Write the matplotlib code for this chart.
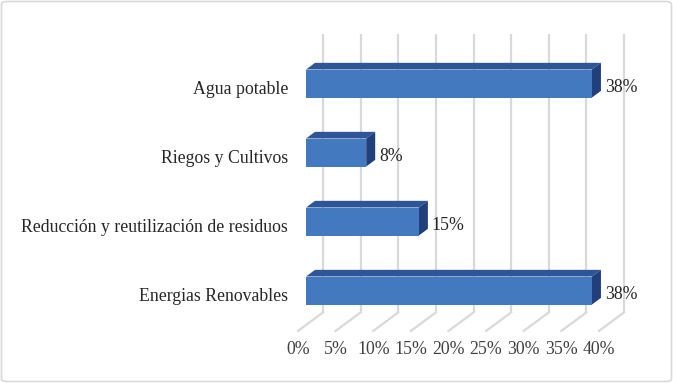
import matplotlib
matplotlib.use('Agg')

import matplotlib.pyplot as plt
from matplotlib.patches import Polygon, FancyBboxPatch
import numpy as np

# --- Data ---
categories = ['Energias Renovables', 'Reducción y reutilización de residuos',
              'Riegos y Cultivos', 'Agua potable']
values = [38, 15, 8, 38]
value_labels = ['38%', '15%', '8%', '38%']
ticks = [0, 5, 10, 15, 20, 25, 30, 35, 40]
tick_labels = ['0%', '5%', '10%', '15%', '20%', '25%', '30%', '35%', '40%']

plt.rcParams['font.family'] = ['Liberation Serif', 'DejaVu Serif']

W, H = 673, 383
fig = plt.figure(figsize=(W / 100, H / 100), dpi=100)

# axes placed so that 0..40 % maps onto the bars' front plane
ax_left, ax_w = 306, 301
ax_bottom, ax_h = H - 325, 276
ax = fig.add_axes([ax_left / W, ax_bottom / H, ax_w / W, ax_h / H])
ax.set_xlim(0, 40)
ax.set_ylim(-0.5, 3.5)
ax.axis('off')

px_x = ax_w / 40.0      # pixels per percent
px_y = ax_h / 4.0       # pixels per category
slope = 0.74            # vertical rise per pixel of depth


def depth(d):
    """data-unit offset for a depth of d pixels"""
    return d / px_x, slope * d / px_y


grid_c = '#D9D9D9'
# back wall gridlines + floor lines
wx, wy = depth(17)
fx, fy = depth(-8)
for t in ticks:
    ax.plot([t + wx, t + wx], [-0.5 + wy, 3.5 + wy + 2 / px_y], color=grid_c,
            lw=1.6, clip_on=False, zorder=1, solid_capstyle='butt')
    ax.plot([t + wx, t + fx], [-0.5 + wy, -0.5 + fy], color=grid_c, lw=1.6,
            clip_on=False, zorder=1)

# 3D-looking bars
bar_h = 28 / px_y
bx, by = depth(9)
front_c, top_c, side_c = '#4379BF', '#2D5598', '#213F7B'
fs = 12.8
for i, v in enumerate(values):
    y0, y1 = i - bar_h / 2, i + bar_h / 2
    ax.add_patch(Polygon([(0, y1), (v, y1), (v + bx, y1 + by), (bx, y1 + by)],
                         closed=True, facecolor=top_c, edgecolor='none',
                         zorder=3, clip_on=False))
    ax.add_patch(Polygon([(v, y0), (v, y1), (v + bx, y1 + by), (v + bx, y0 + by)],
                         closed=True, facecolor=side_c, edgecolor='none',
                         zorder=3, clip_on=False))
    ax.barh(i, v, height=bar_h, left=0, color=front_c, edgecolor='none',
            zorder=4, clip_on=False)
    ax.text(v + bx + 4 / px_x, i - 4 / px_y, value_labels[i], ha='left',
            va='center', fontsize=fs, color='#262626', clip_on=False)
    ax.text(-18 / px_x, i - 6 / px_y, categories[i], ha='right', va='center',
            fontsize=fs, color='#262626', clip_on=False)

# x tick labels along the floor front edge
for t, lab in zip(ticks, tick_labels):
    ax.text(t + fx, -0.5 - 25 / px_y, lab, ha='center', va='center',
            fontsize=fs, color='#404040', clip_on=False)

# chart border
fig.patches.append(FancyBboxPatch((1.5 / W, 1.5 / H), 1 - 3 / W, 1 - 3 / H,
                                  boxstyle='round,pad=0,rounding_size=0.008',
                                  transform=fig.transFigure, facecolor='none',
                                  edgecolor='#D9D9D9', lw=1.2))

fig.savefig('out.png', dpi=100)
